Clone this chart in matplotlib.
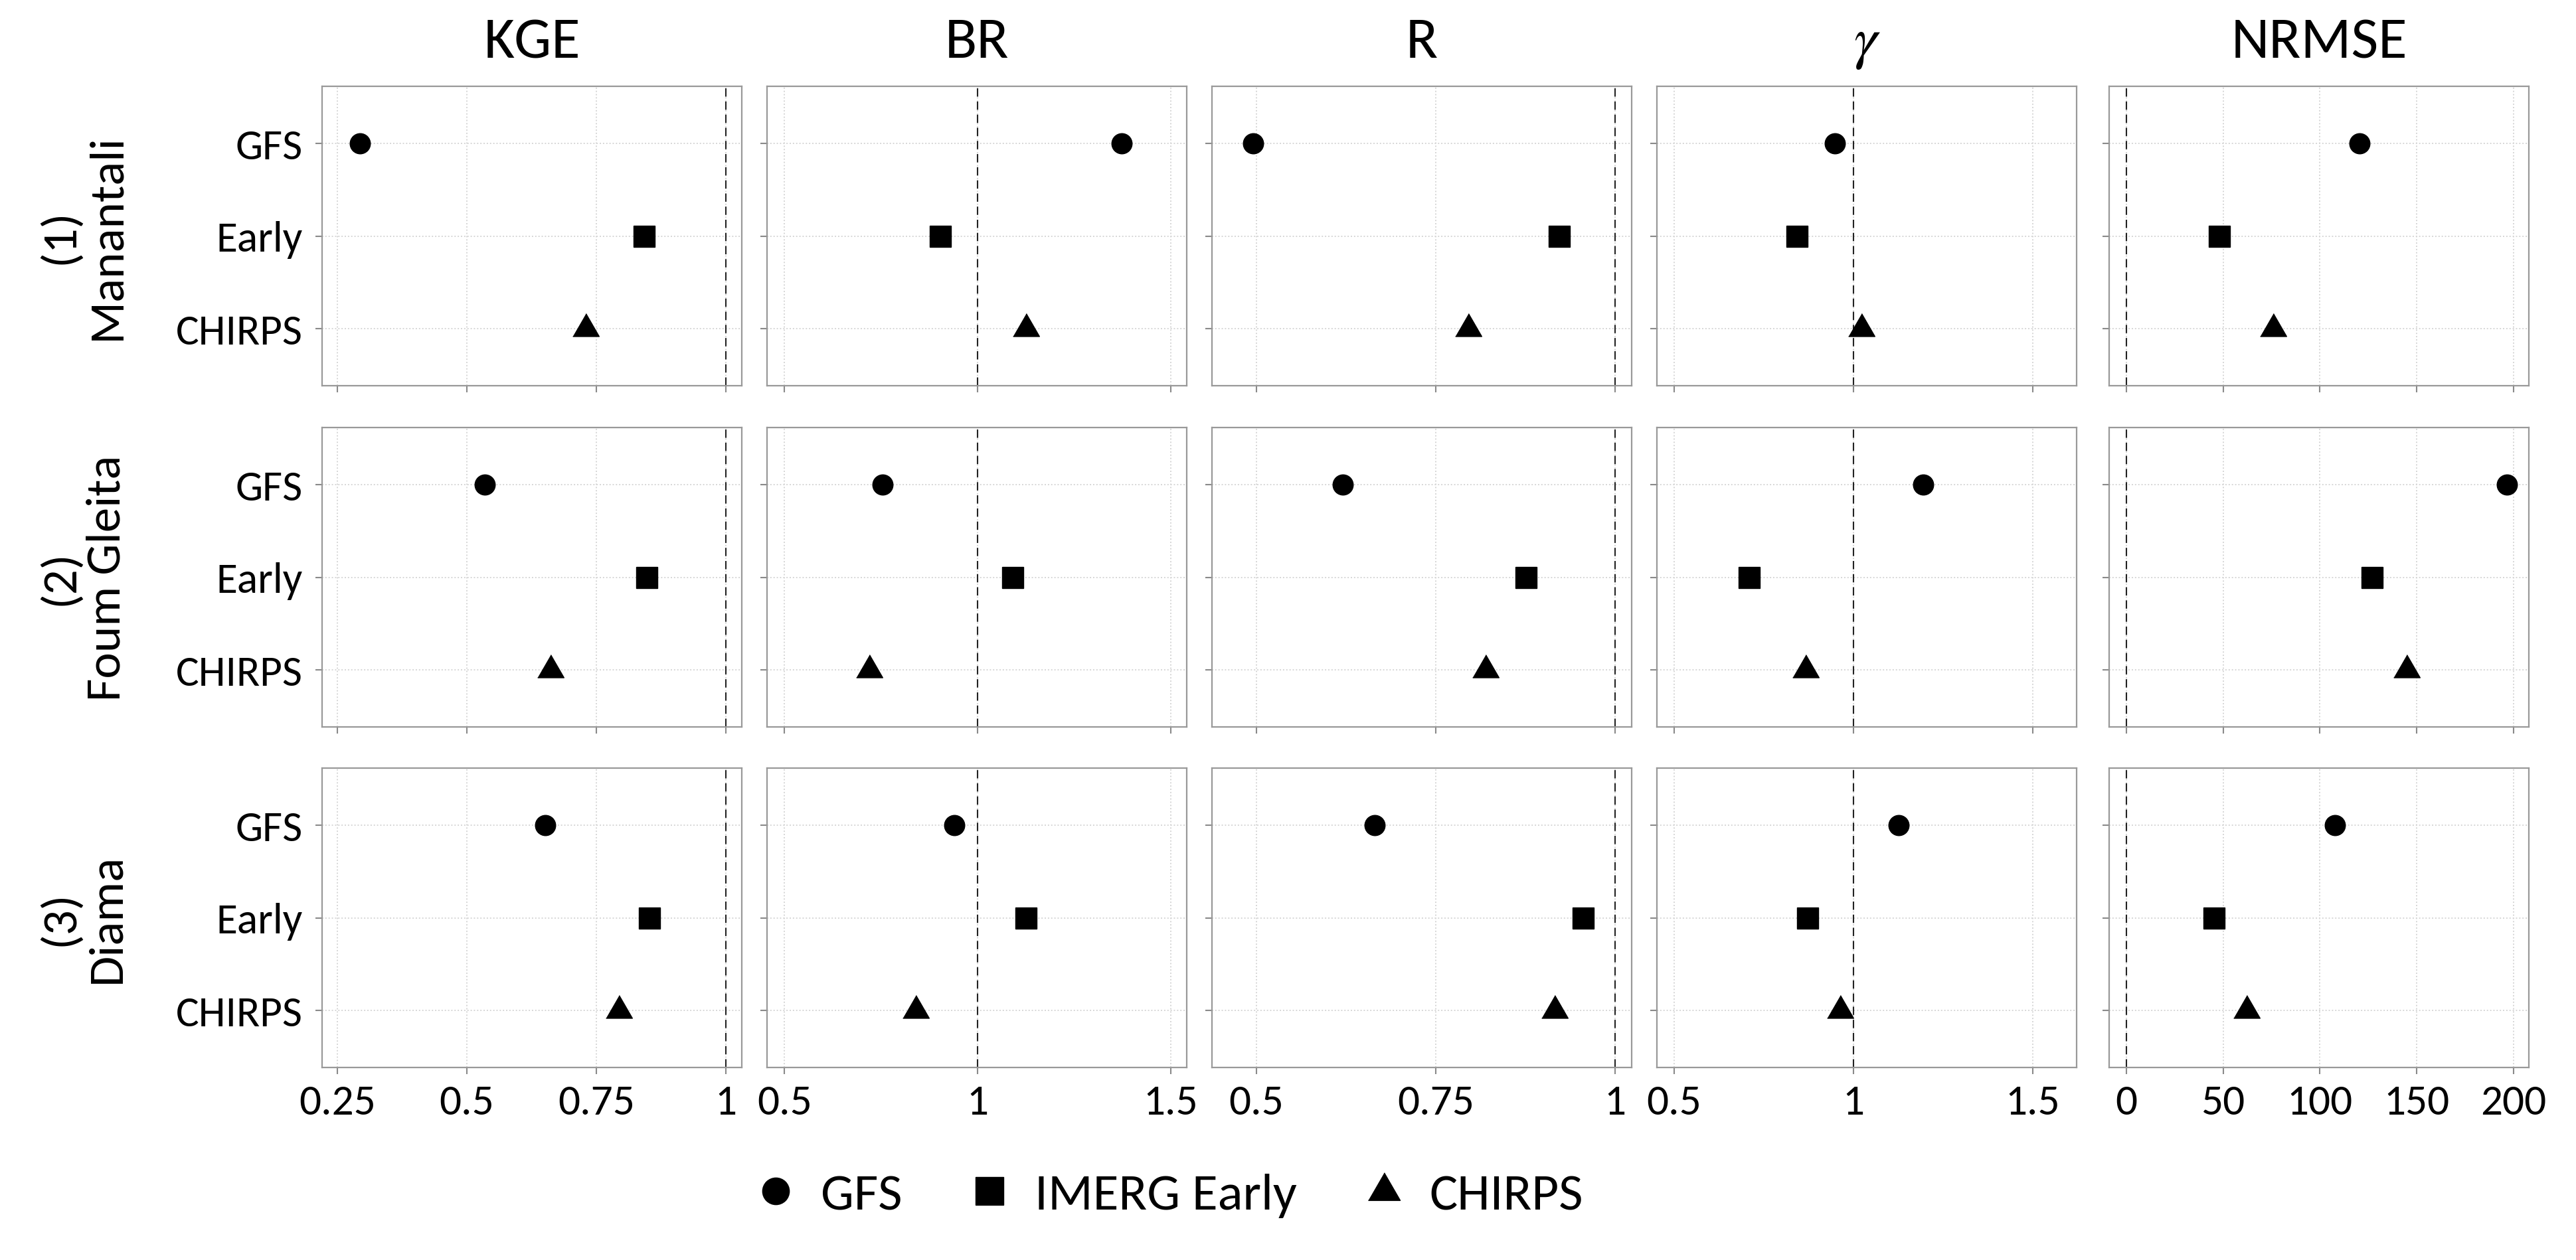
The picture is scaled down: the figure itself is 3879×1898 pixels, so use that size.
import matplotlib
matplotlib.use("Agg")
import matplotlib.pyplot as plt
from matplotlib.lines import Line2D

# Carlito is metric-compatible with Calibri (the reference font); Lato as a fallback
plt.rcParams['font.family'] = ['Carlito', 'Lato', 'DejaVu Sans']
plt.rcParams['mathtext.fontset'] = 'stix'

# ---- data ----
stations = ["(1)\nManantali", "(2)\nFoum Gleita", "(3)\nDiama"]
products = ["GFS", "Early", "CHIRPS"]
legend_labels = ["GFS", "IMERG Early", "CHIRPS"]
metrics = ["KGE", "BR", "R", r"$\gamma$", "NRMSE"]

# one value per station (Manantali, Foum Gleita, Diama)
kge_gfs = [0.294, 0.535, 0.652]
kge_early = [0.843, 0.848, 0.853]
kge_chirps = [0.729, 0.662, 0.794]

br_gfs = [1.372, 0.754, 0.940]
br_early = [0.903, 1.091, 1.126]
br_chirps = [1.126, 0.720, 0.840]

r_gfs = [0.495, 0.620, 0.665]
r_early = [0.922, 0.876, 0.955]
r_chirps = [0.795, 0.819, 0.916]

gamma_gfs = [0.948, 1.194, 1.125]
gamma_early = [0.842, 0.709, 0.872]
gamma_chirps = [1.023, 0.866, 0.963]

nrmse_gfs = [120.6, 196.8, 107.9]
nrmse_early = [48.2, 127.0, 45.3]
nrmse_chirps = [76.0, 144.9, 62.0]

# reference (perfect score) value per metric
ref_values = [1, 1, 1, 1, 0]

# axis ticks per metric
kge_ticks = [0.25, 0.5, 0.75, 1]
br_ticks = [0.5, 1, 1.5]
r_ticks = [0.5, 0.75, 1]
gamma_ticks = [0.5, 1, 1.5]
nrmse_ticks = [0, 50, 100, 150, 200]

# table built from the lists above: metric -> product -> station values
values = [
    [kge_gfs, kge_early, kge_chirps],
    [br_gfs, br_early, br_chirps],
    [r_gfs, r_early, r_chirps],
    [gamma_gfs, gamma_early, gamma_chirps],
    [nrmse_gfs, nrmse_early, nrmse_chirps],
]
ticks = [kge_ticks, br_ticks, r_ticks, gamma_ticks, nrmse_ticks]
xlims = [(0.2205, 1.031), (0.455, 1.541), (0.438, 1.023), (0.452, 1.622), (-8.9, 208)]

# ---- styling ----
W, H = 3880, 1899
col_lefts = [485, 1155, 1825, 2495, 3176]
row_tops = [131, 645, 1158]
panel_w, panel_h = 632, 451

tri = [(-1, -0.5774), (1, -0.5774), (0, 1.1547)]  # equilateral, centred on centroid
markers = ['o', 's', tri]
plot_sizes = [22, 22.5, 33]
legend_sizes = [29, 30, 40]

border_col = '#999999'
tick_col = '#8a8a8a'
grid_col = '#d6d6d6'


def fmt_tick(v):
    """Tick label text without trailing zeros (1 instead of 1.0)."""
    return f"{v:g}"


fig = plt.figure(figsize=(W / 100, H / 100), dpi=100)

for r, top in enumerate(row_tops):
    for c, left in enumerate(col_lefts):
        ax = fig.add_axes([left / W, 1 - (top + panel_h) / H, panel_w / W, panel_h / H])

        # grid and reference line sit under the points
        ax.set_axisbelow(True)
        ax.grid(True, color=grid_col, lw=1.4, ls=(0, (1, 1.5)))
        ax.axvline(ref_values[c], color='#222222', lw=1.5, ls=(0, (6, 3.5)), zorder=1.5)

        for p in range(len(products)):
            ax.plot(values[c][p][r], p, ls='none', marker=markers[p],
                    ms=plot_sizes[p], color='black', mec='black', zorder=3)

        ax.set_xlim(*xlims[c])
        ax.set_ylim(len(products) - 1 + 0.62, -0.62)
        ax.set_xticks(ticks[c])
        ax.set_yticks(range(len(products)))

        if r == len(row_tops) - 1:
            ax.set_xticklabels([fmt_tick(t) for t in ticks[c]])
        else:
            ax.set_xticklabels([])
        if c == 0:
            ax.set_yticklabels(products)
        else:
            ax.set_yticklabels([])

        ax.tick_params(axis='both', length=7, width=1.5, color=tick_col, labelsize=47)
        ax.tick_params(axis='y', pad=14)
        ax.tick_params(axis='x', pad=10)

        for s in ax.spines.values():
            s.set_color(border_col)
            s.set_linewidth(1.6)

# column titles
for c, left in enumerate(col_lefts):
    fig.text((left + panel_w / 2) / W, 1 - 87 / H, metrics[c],
             ha='center', va='baseline', fontsize=64)

# row labels
for r, top in enumerate(row_tops):
    fig.text(125 / W, 1 - (top + panel_h / 2) / H, stations[r], rotation=90,
             ha='center', va='center', multialignment='center',
             fontsize=54, linespacing=1.15)

# legend
handles = [Line2D([], [], ls='none', marker=markers[i], ms=legend_sizes[i], color='black')
           for i in range(len(legend_labels))]
fig.legend(handles, legend_labels, loc='center', bbox_to_anchor=(1760 / W, 1 - 1801 / H),
           ncol=3, frameon=False, fontsize=57, handlelength=0.8, handletextpad=0.46,
           columnspacing=1.26)

fig.savefig('out.png', dpi=100, facecolor='white')
